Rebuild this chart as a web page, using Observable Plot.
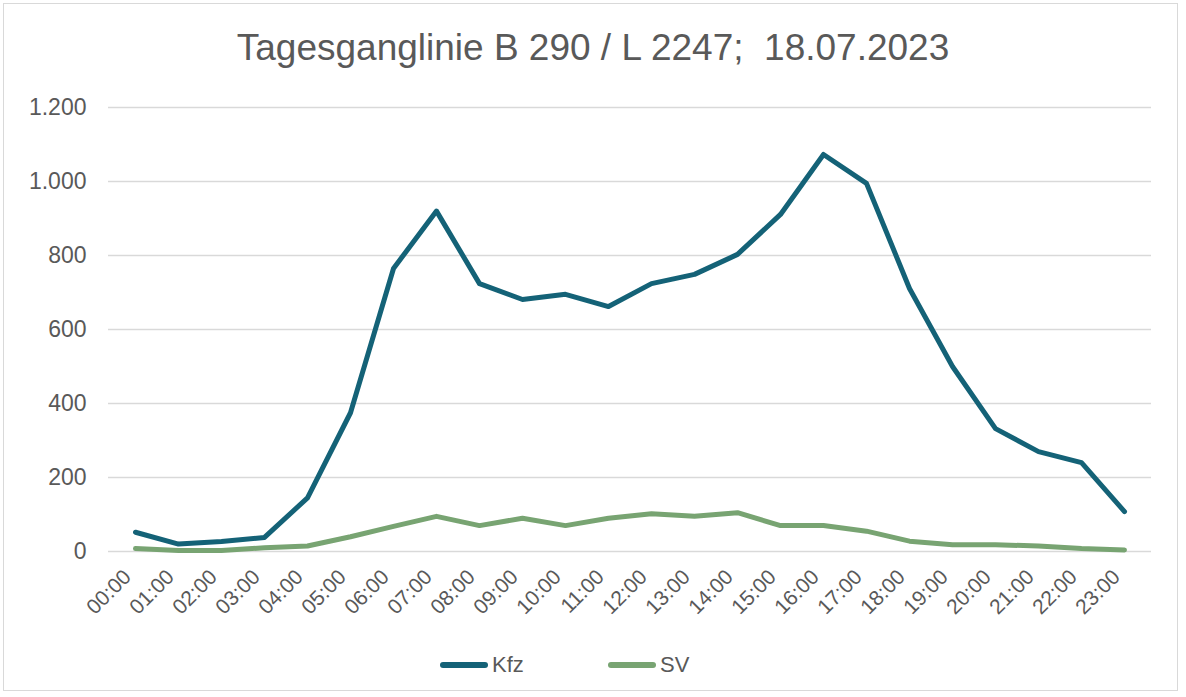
<!DOCTYPE html>
<html>
<head>
<meta charset="utf-8">
<script src="https://cdn.jsdelivr.net/npm/d3@7"></script>
<script src="https://cdn.jsdelivr.net/npm/@observablehq/plot@0.6"></script>
<style>
  body { margin: 0; background: #fff; font-family: "Liberation Sans", Arial, sans-serif; }
  #frame { position: absolute; left: 3px; top: 3px; width: 1175px; height: 688px; border: 1px solid #d9d9d9; box-sizing: border-box; }
  #title { position: absolute; left: 0; top: 27px; width: 1186px; text-align: center; font-size: 37px; color: #595959; white-space: pre; }
  #chart { position: absolute; left: 0; top: 80px; }
  .leg { position: absolute; top: 652px; font-size: 22px; color: #595959; display: flex; align-items: center; }
  .sw { display: inline-block; width: 48px; height: 6px; border-radius: 3px; margin-right: 4px; }
</style>
</head>
<body>
<div id="frame"></div>
<div id="title">Tagesganglinie B 290 / L 2247;  18.07.2023</div>
<div id="chart"></div>
<div class="leg" style="left:440px"><span class="sw" style="background:#146277"></span>Kfz</div>
<div class="leg" style="left:608px"><span class="sw" style="background:#78a472"></span>SV</div>
<script>
const hours = ["00:00","01:00","02:00","03:00","04:00","05:00","06:00","07:00","08:00","09:00","10:00","11:00","12:00","13:00","14:00","15:00","16:00","17:00","18:00","19:00","20:00","21:00","22:00","23:00"];
const kfz = [52, 20, 27, 38, 145, 375, 765, 920, 724, 681, 695, 662, 724, 749, 803, 911, 1073, 995, 711, 500, 332, 270, 240, 108];
const sv = [8, 3, 3, 10, 15, 40, 68, 95, 70, 90, 70, 90, 102, 95, 105, 70, 70, 55, 28, 18, 18, 15, 8, 4];
const yTicks = [0, 200, 400, 600, 800, 1000, 1200];
const seriesNames = ["Kfz", "SV"];
const colors = ["#146277", "#78a472"];

const data = [];
hours.forEach((h, i) => {
  data.push({hour: h, value: kfz[i], series: seriesNames[0]});
  data.push({hour: h, value: sv[i], series: seriesNames[1]});
});
const fmt = v => d3.format(",")(v).replace(/,/g, ".");

const plot = Plot.plot({
  width: 1186,
  height: 561,
  marginTop: 27,
  marginBottom: 90,
  marginLeft: 108,
  marginRight: 35,
  style: {fontFamily: "'Liberation Sans', Arial, sans-serif", color: "#595959", background: "transparent"},
  x: {type: "point", domain: hours, padding: 0.5},
  y: {domain: [0, 1200]},
  color: {domain: seriesNames, range: colors},
  marks: [
    Plot.ruleY(yTicks, {stroke: "#d9d9d9", strokeWidth: 1.5, strokeOpacity: 1}),
    Plot.axisY(yTicks, {tickSize: 0, tickPadding: 22, tickFormat: fmt, fontSize: 23, fill: "#595959", label: null}),
    Plot.axisX({tickSize: 0, tickPadding: 22, dx: -8, tickRotate: -45, fontSize: 21, fill: "#595959", label: null}),
    Plot.line(data, {x: "hour", y: "value", z: "series", stroke: "series", strokeWidth: 5, strokeLinejoin: "round", strokeLinecap: "round"})
  ]
});
document.getElementById("chart").appendChild(plot);
</script>
</body>
</html>
